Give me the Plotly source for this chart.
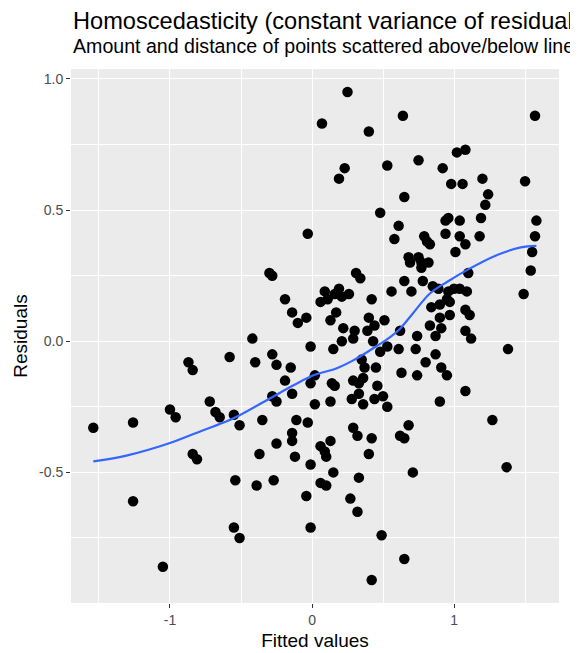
import plotly.graph_objects as go

# Fitted values (x) and residuals (y) for each point
fitted = [
    -1.54, -1.26, -1.26, -1.05, -1.00, -0.96, -0.87, -0.84, -0.84, -0.81,
    -0.72, -0.68, -0.65, -0.58, -0.54, -0.55, -0.51, -0.55, -0.51, -0.42,
    -0.40, -0.39, -0.37, -0.35, -0.30, -0.28, -0.28, -0.25, -0.28, -0.25,
    -0.27, -0.25, -0.19, -0.15, -0.19, -0.14, -0.14, -0.10, -0.04, -0.11,
    -0.03, -0.14, -0.14, -0.12, -0.04, -0.01, -0.01, -0.01, -0.03, 0.02,
    -0.01, 0.02, 0.09, 0.06, 0.11, 0.19, 0.16, 0.21, 0.26, 0.17,
    0.13, 0.22, 0.30, 0.29, 0.31, 0.34, 0.42, 0.40, 0.44, 0.39,
    0.43, 0.21, 0.15, 0.35, 0.37, 0.45, 0.48, 0.14, 0.16, 0.29,
    0.36, 0.33, 0.46, 0.13, 0.28, 0.33, 0.36, 0.44, 0.50, 0.53,
    0.06, 0.09, 0.13, 0.10, 0.15, 0.06, 0.10, 0.29, 0.32, 0.42,
    0.40, 0.33, 0.27, 0.32, 0.49, 0.42, 0.25, 0.07, 0.40, 0.23,
    0.19, 0.53, 0.48, 0.64, 1.57, 1.02, 1.08, 0.75, 0.92, 0.98,
    1.06, 1.20, 1.50, 1.24, 1.22, 0.65, 0.61, 0.94, 0.96, 1.04,
    1.19, 1.58, 0.58, 0.79, 0.81, 0.83, 0.94, 1.04, 1.08, 1.01,
    1.18, 1.57, 1.55, 1.54, 1.49, 0.68, 0.69, 0.75, 0.77, 0.82,
    0.77, 0.65, 0.70, 0.56, 0.78, 0.85, 0.89, 1.10, 0.96, 1.00,
    1.04, 1.09, 0.84, 0.90, 0.95, 0.97, 1.08, 1.11, 0.90, 0.97,
    0.51, 0.62, 0.83, 0.87, 0.91, 0.74, 1.08, 1.12, 0.53, 0.61,
    0.73, 1.38, 0.87, 0.80, 0.91, 0.95, 0.63, 0.74, 0.90, 1.08,
    1.27, 0.68, 0.62, 0.65, 0.71, 1.37, 0.65,
]
residuals = [
    -0.33, -0.31, -0.61, -0.86, -0.26, -0.29, -0.08, -0.11, -0.43, -0.45,
    -0.23, -0.27, -0.29, -0.06, -0.53, -0.28, -0.32, -0.71, -0.75, 0.01,
    -0.08, -0.55, -0.43, -0.30, 0.26, 0.25, -0.05, -0.09, -0.21, -0.23,
    -0.53, -0.39, 0.16, -0.10, -0.15, -0.20, 0.11, 0.07, 0.09, -0.30,
    -0.31, -0.35, -0.38, -0.44, -0.59, -0.71, -0.47, -0.02, 0.41, -0.13,
    -0.16, -0.24, 0.19, 0.15, 0.16, 0.20, 0.18, 0.17, 0.18, 0.11,
    0.08, 0.05, 0.04, 0.01, 0.26, 0.24, 0.16, 0.09, 0.06, 0.04,
    0.00, 0.00, -0.03, -0.07, -0.10, -0.10, -0.04, -0.16, -0.17, -0.15,
    -0.14, -0.16, -0.17, -0.23, -0.22, -0.20, -0.24, -0.22, -0.21, -0.25,
    -0.40, -0.42, -0.38, -0.44, -0.50, -0.54, -0.55, -0.33, -0.36, -0.37,
    -0.43, -0.52, -0.60, -0.65, -0.74, -0.91, 0.95, 0.83, 0.80, 0.66,
    0.62, 0.67, 0.49, 0.86, 0.86, 0.72, 0.73, 0.69, 0.66, 0.60,
    0.60, 0.62, 0.61, 0.56, 0.52, 0.55, 0.44, 0.46, 0.47, 0.46,
    0.47, 0.46, 0.39, 0.40, 0.38, 0.37, 0.41, 0.40, 0.37, 0.34,
    0.40, 0.40, 0.34, 0.27, 0.18, 0.32, 0.30, 0.32, 0.30, 0.30,
    0.28, 0.23, 0.19, 0.19, 0.23, 0.21, 0.20, 0.26, 0.19, 0.20,
    0.20, 0.19, 0.13, 0.14, 0.16, 0.15, 0.12, 0.10, 0.09, 0.10,
    0.08, 0.04, 0.06, 0.02, 0.05, 0.02, 0.04, 0.01, -0.02, -0.03,
    -0.03, -0.03, -0.05, -0.08, -0.10, -0.13, -0.12, -0.13, -0.23, -0.19,
    -0.30, -0.32, -0.36, -0.37, -0.50, -0.48, -0.83,
]

# LOESS smoother
smooth_x = [-1.54, -1.30, -1.00, -0.77, -0.60, -0.51, -0.30, -0.13, 0.01,
            0.17, 0.29, 0.41, 0.55, 0.62, 0.71, 0.83, 0.95, 1.10, 1.30, 1.47, 1.58]
smooth_y = [-0.458, -0.435, -0.388, -0.340, -0.305, -0.282, -0.219, -0.168, -0.130,
            -0.104, -0.073, -0.034, 0.016, 0.048, 0.106, 0.182, 0.226, 0.274, 0.328, 0.358, 0.364]

x_ticks = [-1, 0, 1]
x_ticktext = ["-1", "0", "1"]
x_minor = [-1.5, -0.5, 0.5, 1.5]
y_ticks = [-0.5, 0.0, 0.5, 1.0]
y_ticktext = ["-0.5", "0.0", "0.5", "1.0"]
y_minor = [-0.75, -0.25, 0.25, 0.75]

title_text = "Homoscedasticity (constant variance of residuals)"
subtitle_text = "Amount and distance of points scattered above/below line"

FONT = "Liberation Sans, Arial, Helvetica, sans-serif"

fig = go.Figure()
fig.add_trace(go.Scatter(
    x=fitted, y=residuals, mode="markers",
    marker=dict(color="black", size=10.5, line=dict(width=0)),
    showlegend=False, hoverinfo="x+y",
))
fig.add_trace(go.Scatter(
    x=smooth_x, y=smooth_y, mode="lines",
    line=dict(color="#3366FF", width=2.2, shape="spline"),
    showlegend=False,
))

axis_common = dict(
    showgrid=True, gridcolor="white", gridwidth=1.1,
    zeroline=False, showline=False, automargin=False,
    ticks="outside", ticklen=4, tickwidth=1, tickcolor="#333333",
    tickfont=dict(family=FONT, size=14, color="#4D4D4D"),
)

fig.update_xaxes(
    range=[-1.697, 1.739], tickmode="array", tickvals=x_ticks, ticktext=x_ticktext,
    minor=dict(tickmode="array", tickvals=x_minor, showgrid=True,
               gridcolor="white", gridwidth=0.55, ticks=""),
    title=dict(text="Fitted values", font=dict(family=FONT, size=19, color="black"), standoff=6),
    **axis_common,
)
fig.update_yaxes(
    range=[-0.998, 1.038], tickmode="array", tickvals=y_ticks, ticktext=y_ticktext,
    minor=dict(tickmode="array", tickvals=y_minor, showgrid=True,
               gridcolor="white", gridwidth=0.55, ticks=""),
    title=dict(text="Residuals", font=dict(family=FONT, size=19, color="black"), standoff=6),
    **axis_common,
)

fig.update_layout(
    width=578, height=653,
    margin=dict(l=63, r=27, t=61, b=58, autoexpand=False),
    plot_bgcolor="#EBEBEB", paper_bgcolor="white",
    font=dict(family=FONT),
    annotations=[
        dict(text=title_text, xref="paper", yref="paper", x=0, y=1.0903,
             xanchor="left", yanchor="middle", showarrow=False,
             font=dict(family=FONT, size=23.6, color="black")),
        dict(text=subtitle_text, xref="paper", yref="paper", x=0, y=1.0423,
             xanchor="left", yanchor="middle", showarrow=False,
             font=dict(family=FONT, size=19.6, color="black")),
    ],
)

fig.write_html("out.html")
